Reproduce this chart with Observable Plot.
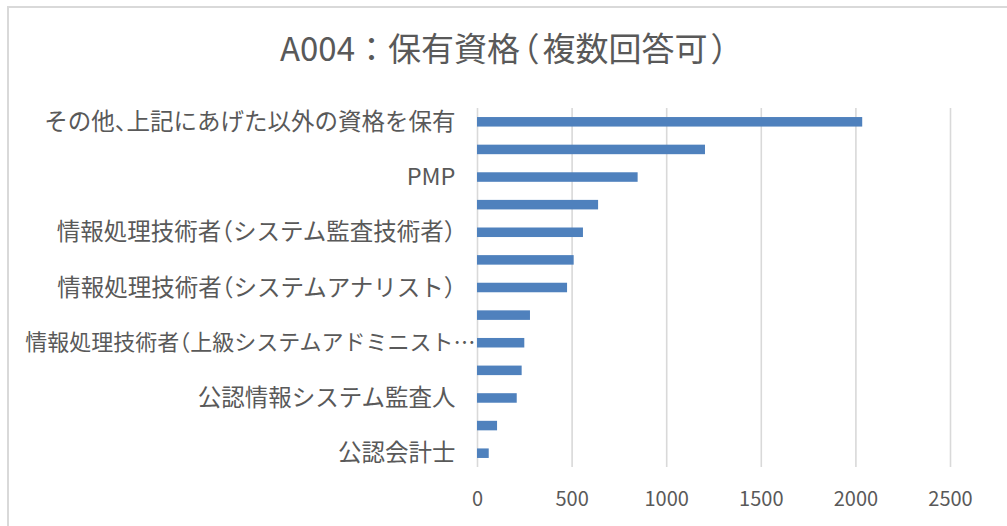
<!DOCTYPE html>
<html>
<head>
<meta charset="utf-8">
<script src="https://cdn.jsdelivr.net/npm/d3@7"></script>
<script src="https://cdn.jsdelivr.net/npm/@observablehq/plot@0.6"></script>
<style>
  html, body { margin: 0; padding: 0; background: #fff; }
  body { width: 1007px; height: 526px; overflow: hidden; position: relative;
         font-family: "Noto Sans CJK JP", "Noto Sans", sans-serif; color: #595959; }
  #frame { position: absolute; left: 7px; top: 6px; width: 1020px; height: 540px;
           border-top: 2px solid #d9d9d9; border-left: 2px solid #d9d9d9; }
  #title { position: absolute; left: 0; top: 0; width: 1010px; height: 90px;
           text-align: center; font-size: 33px; line-height: 94px; color: #595959; }
  #title .p { font-feature-settings: "halt"; padding: 0 3px; }
  #chart { position: absolute; left: 0; top: 90px; }
  #chart text { font-feature-settings: "halt"; }
</style>
</head>
<body>
<div id="frame"></div>
<div id="title">A004：保有資格<span class="p">（</span>複数回答可<span class="p">）</span></div>
<div id="chart"></div>
<script>
// Categories, top to bottom. Only every other label is shown in the original chart;
// the hidden ones are not legible, so they are given neutral placeholder names.
const categories = [
  "その他、上記にあげた以外の資格を保有",
  "（項目2）",
  "PMP",
  "（項目4）",
  "情報処理技術者（システム監査技術者）",
  "（項目6）",
  "情報処理技術者（システムアナリスト）",
  "（項目8）",
  "情報処理技術者（上級システムアドミニスト…",
  "（項目10）",
  "公認情報システム監査人",
  "（項目12）",
  "公認会計士"
];
const counts = [2036, 1205, 849, 640, 560, 511, 476, 280, 250, 236, 210, 106, 62];
const xTicks = [0, 500, 1000, 1500, 2000, 2500];

const data = categories.map((c, i) => ({category: c, count: counts[i]}));
const shown = data.filter((d, i) => i % 2 === 0);
const truncated = "情報処理技術者（上級システムアドミニスト…";
const shownNormal = shown.filter(d => d.category !== truncated);
const shownTrunc = shown.filter(d => d.category === truncated);

const plot = Plot.plot({
  width: 1007,
  height: 436,
  marginLeft: 477,
  marginRight: 57,
  marginTop: 18,
  marginBottom: 59,
  style: { fontFamily: '"Noto Sans CJK JP", "Noto Sans", sans-serif', color: "#595959", background: "transparent" },
  x: { domain: [0, 2500], ticks: xTicks, label: null },
  y: { domain: categories, paddingInner: 0.655, paddingOuter: 0.3275, round: false, label: null, axis: null },
  marks: [
    Plot.ruleX(xTicks, { stroke: "#d9d9d9", strokeWidth: 1.6 }),
    Plot.barX(data, { x: "count", y: "category", fill: "#4f81bd" }),
    Plot.axisX({ ticks: xTicks, tickSize: 0, tickPadding: 24, fontSize: 20, fill: "#595959",
                 label: null, tickFormat: d3.format("d") }),
    Plot.text(shownNormal, { x: () => 0, y: "category", text: "category", textAnchor: "end",
                             dx: -22, fontSize: 23.5, fill: "#595959" }),
    Plot.text(shownTrunc, { x: () => 0, y: "category", text: "category", textAnchor: "end",
                            dx: -2, fontSize: 22, fill: "#595959" })
  ]
});
document.getElementById("chart").appendChild(plot);
</script>
</body>
</html>
